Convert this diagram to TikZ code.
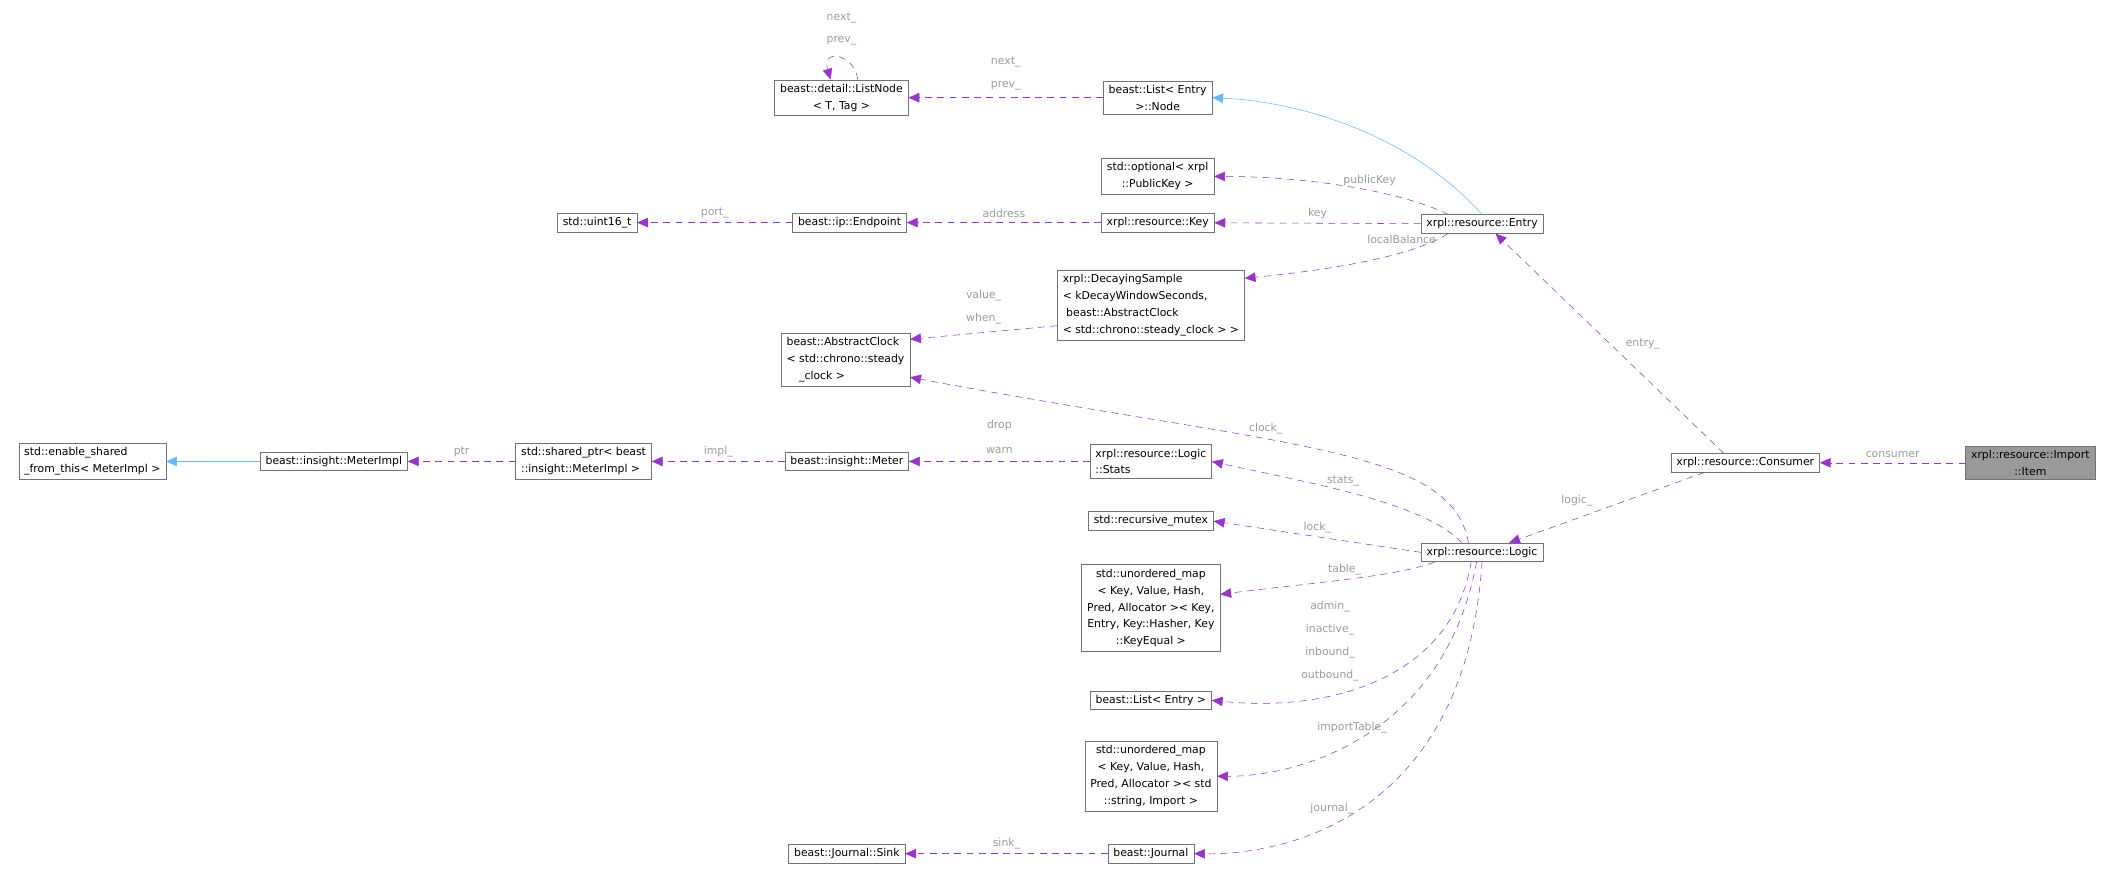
\documentclass[tikz,border=0pt]{standalone}
\usepackage{fontspec}
\setmainfont{DejaVu Sans}
\usetikzlibrary{arrows.meta,positioning}
\definecolor{member}{HTML}{9A32CD}
\definecolor{inherit}{HTML}{63B8FF}
\definecolor{label}{HTML}{9A9A9A}
\tikzset{
    cls/.style = {
        draw=gray!90!black,
        fill=white,
        align=center,
        font=\fontsize{8}{12.5}\selectfont,
        inner xsep=4pt,
        inner ysep=3pt,
        },
    focus/.style = {
        fill = gray!80,
        },
    use edge/.style = {
        draw=member,
        dashed,
        dash pattern=on 5pt off 4pt,
        -{Triangle[width=7pt,length=8pt]},
        },
    inherit edge/.style = {
        draw=inherit,
        -{Triangle[width=7pt,length=8pt]},
        },
    lbl/.style = {
        text=label,
        font=\fontsize{8}{12.5}\selectfont,
        },
}

\begin{document}
\begin{tikzpicture}[x=1pt,y=-1pt]
    \useasboundingbox (0,0) rectangle (1568,643);
    \node[cls] (listnode) at (620,72) {beast::detail::ListNode\\{}< T, Tag >};
    \node[cls] (entrynode) at (853,72) {beast::List< Entry\\{}>::Node};
    \node[cls] (optional) at (853,130) {std::optional< xrpl\\::PublicKey >};
    \node[cls] (uint) at (440,164) {std::uint16\_t};
    \node[cls] (endpoint) at (626,164) {beast::ip::Endpoint};
    \node[cls] (key) at (853,164) {xrpl::resource::Key};
    \node[cls] (entry) at (1092,165) {xrpl::resource::Entry};
    \node[cls, align=left] (decay) at (848,225) {xrpl::DecayingSample\\{}< kDecayWindowSeconds,\\\ beast::AbstractClock\\{}< std::chrono::steady\_clock > >};
    \node[cls, align=left] (clock) at (623,265) {beast::AbstractClock\\{}< std::chrono::steady\\\hphantom{< }\_clock >};
    \node[cls, align=left] (enable) at (68,340) {std::enable\_shared\\\_from\_this< MeterImpl >};
    \node[cls] (meterimpl) at (246,340) {beast::insight::MeterImpl};
    \node[cls, align=left] (sharedptr) at (430,340) {std::shared\_ptr< beast\\::insight::MeterImpl >};
    \node[cls] (meter) at (624,340) {beast::insight::Meter};
    \node[cls, align=left] (stats) at (848,340) {xrpl::resource::Logic\\::Stats};
    \node[cls] (consumer) at (1286,341) {xrpl::resource::Consumer};
    \node[cls, focus] (item) at (1496,341) {xrpl::resource::Import\\::Item};
    \node[cls] (mutex) at (848,384) {std::recursive\_mutex};
    \node[cls] (logic) at (1092,407) {xrpl::resource::Logic};
    \node[cls] (table) at (848,448) {std::unordered\_map\\{}< Key, Value, Hash,\\ Pred, Allocator >< Key,\\ Entry, Key::Hasher, Key\\::KeyEqual >};
    \node[cls] (list) at (848,516) {beast::List< Entry >};
    \node[cls] (imports) at (848,572) {std::unordered\_map\\{}< Key, Value, Hash,\\ Pred, Allocator >< std\\::string, Import >};
    \node[cls] (sink) at (624,629) {beast::Journal::Sink};
    \node[cls] (journal) at (848,629) {beast::Journal};

    % inheritance
    \draw[inherit edge] (meterimpl) -- (enable);
    \draw[inherit edge] (entry.north) .. controls (1040,100) and (960,75) .. (entrynode.east);

    % members
    \draw[use edge] ([xshift=12pt]listnode.north) .. controls (630,40) and (605,35) .. ([xshift=-8pt]listnode.north);
    \node[lbl] at (620,13) {next\_};
    \node[lbl] at (620,30) {prev\_};
    \draw[use edge] (entrynode) -- (listnode) node[lbl, pos=0.5, above=2pt] {prev\_} node[lbl, pos=0.5, above=19pt] {next\_};
    \draw[use edge] ([xshift=-25pt]entry.north) .. controls (1030,140) and (960,130) .. (optional.east) node[lbl, pos=0.4, above] {publicKey};
    \draw[use edge] (entry) -- (key) node[lbl, midway, above] {key};
    \draw[use edge] (key) -- (endpoint) node[lbl, midway, above] {address};
    \draw[use edge] (endpoint) -- (uint) node[lbl, midway, above] {port\_};
    \draw[use edge] ([xshift=-25pt]entry.south) .. controls (1040,190) and (970,200) .. (decay.east |- 0,205) node[lbl, pos=0.3, above=3pt] {localBalance};
    \draw[use edge] (decay.west |- 0,240) -- (clock.east |- 0,250) node[lbl, midway, above=3pt] {when\_} node[lbl, midway, above=20pt] {value\_};
    \draw[use edge] ([xshift=-16pt]consumer.north) -- ([xshift=10pt]entry.south) node[lbl, pos=0.45, above right] {entry\_};
    \draw[use edge] (item) -- (consumer) node[lbl, midway, above] {consumer};
    \draw[use edge] ([xshift=-30pt]consumer.south) -- ([xshift=20pt]logic.north) node[lbl, pos=0.55, above left] {logic\_};
    \draw[use edge] ([xshift=-10pt]logic.north) .. controls (1070,330) and (950,330) .. (clock.east |- 0,278) node[lbl, pos=0.6, above] {clock\_};
    \draw[use edge] ([xshift=-15pt]logic.north) .. controls (1050,370) and (960,355) .. (stats.east) node[lbl, pos=0.55, above] {stats\_};
    \draw[use edge] (logic.west) -- (mutex.east) node[lbl, midway, above=-1pt] {lock\_};
    \draw[use edge] ([xshift=-35pt]logic.south) .. controls (1030,425) and (960,430) .. (table.east |- 0,438) node[lbl, pos=0.5, above] {table\_};
    \draw[use edge] ([xshift=-8pt]logic.south) .. controls (1070,500) and (980,525) .. (list.east) node[lbl, pos=0.3, left=4pt] {};
    \node[lbl] at (980,447) {admin\_};
    \node[lbl] at (980,464) {inactive\_};
    \node[lbl] at (980,481) {inbound\_};
    \node[lbl] at (980,498) {outbound\_};
    \draw[use edge] ([xshift=-4pt]logic.south) .. controls (1065,540) and (960,572) .. (imports.east) node[lbl, pos=0.55, above=3pt] {importTable\_};
    \draw[use edge] (logic.south) .. controls (1080,600) and (950,630) .. (journal.east) node[lbl, pos=0.6, above=4pt] {journal\_};
    \draw[use edge] (journal) -- (sink) node[lbl, midway, above] {sink\_};
    \draw[use edge] (stats) -- (meter) node[lbl, midway, above=2pt] {warn} node[lbl, midway, above=19pt] {drop};
    \draw[use edge] (meter) -- (sharedptr) node[lbl, midway, above] {impl\_};
    \draw[use edge] (sharedptr) -- (meterimpl) node[lbl, midway, above] {ptr};
\end{tikzpicture}
\end{document}
